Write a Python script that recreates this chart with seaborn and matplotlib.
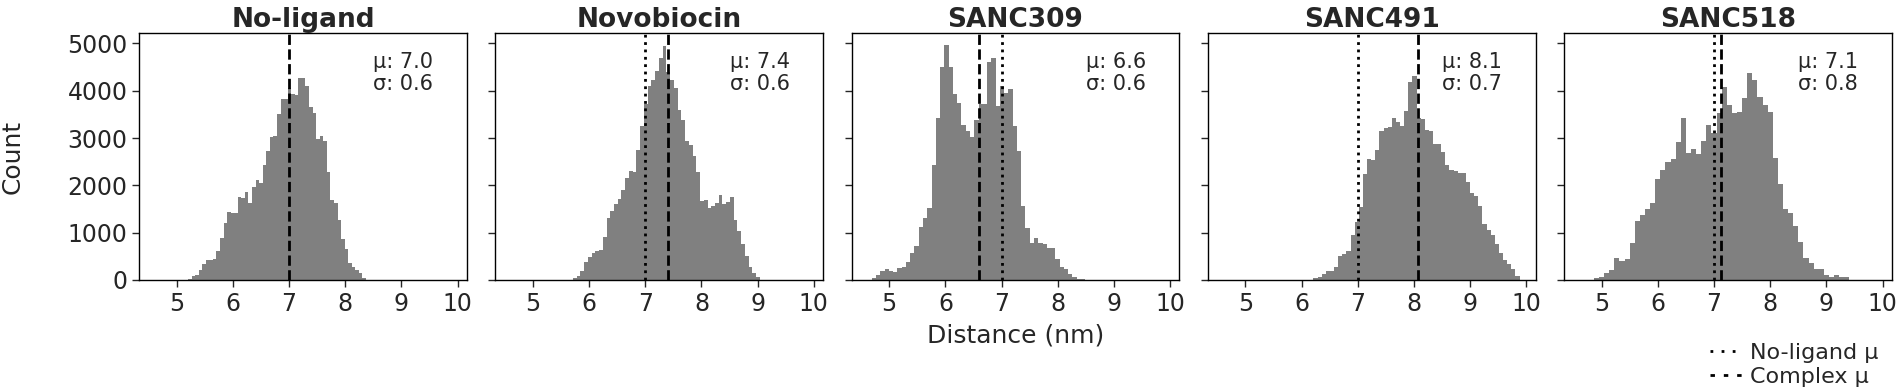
import matplotlib.pyplot as plt
import numpy as np
import pandas as pd
import seaborn as sns
from matplotlib.lines import Line2D


output_path = "out.png"

ligands = ["No-ligand", "Novobiocin", "SANC309", "SANC491", "SANC518"]
complex_means = [7.0, 7.4, 6.59, 8.08, 7.12]
complex_sds = [0.6, 0.6, 0.6, 0.7, 0.8]
no_ligand_mean = 7.0

# first / last bin edge of each histogram (50 bins each)
bin_ranges = [(5.20, 8.37), (5.71, 9.04), (4.69, 8.49), (6.21, 9.88), (4.86, 9.41)]

counts_no_ligand = [
    30, 80, 100, 210, 340, 420, 430, 440, 620, 880,
    1200, 1430, 1410, 1410, 1750, 1740, 1850, 1620, 1960, 2120,
    2060, 2430, 2720, 3030, 3040, 3500, 3830, 3830, 4060, 3930,
    3920, 4270, 4260, 4090, 3650, 3540, 2980, 3040, 2930, 2290,
    1690, 1620, 1260, 860, 650, 350, 280, 220, 140, 40,
]
counts_novobiocin = [
    35, 85, 200, 390, 490, 570, 610, 640, 900, 1300,
    1450, 1600, 1720, 1900, 2150, 2300, 2290, 2750, 3250, 3720,
    4100, 4230, 4420, 4700, 4950, 4400, 4220, 4050, 3600, 3390,
    2930, 2860, 2620, 2290, 1660, 1690, 1520, 1560, 1620, 1800,
    1600, 1640, 1760, 1270, 1040, 770, 510, 280, 140, 55,
]
counts_sanc309 = [
    35, 100, 190, 230, 200, 160, 260, 280, 370, 560,
    720, 1130, 1320, 1520, 2430, 3420, 4510, 4960, 4510, 3940,
    3750, 3270, 3140, 3030, 3380, 3720, 3730, 4600, 4690, 3680,
    4100, 3950, 4030, 3250, 2720, 1560, 1100, 780, 880, 790,
    770, 680, 670, 440, 280, 230, 130, 60, 30, 15,
]
counts_sanc491 = [
    35, 70, 125, 200, 200, 280, 500, 550, 620, 950,
    1230, 1540, 2250, 2560, 2540, 2750, 3140, 3210, 3225, 3430,
    3330, 3260, 3575, 4195, 4315, 3420, 3400, 3160, 3140, 2875,
    2870, 2695, 2420, 2320, 2305, 2270, 2255, 2065, 1835, 1775,
    1565, 1185, 1060, 950, 760, 565, 420, 340, 225, 85,
]
counts_sanc518 = [
    35, 55, 140, 210, 475, 410, 445, 775, 1255, 1375,
    1500, 1620, 2130, 2315, 2500, 2555, 2925, 3420, 2680, 2770,
    2660, 2945, 3280, 3100, 3525, 4085, 3700, 3525, 3560, 3845,
    4370, 4230, 3860, 3700, 3560, 2575, 2030, 1500, 1410, 1150,
    795, 460, 350, 225, 225, 105, 70, 100, 55, 70,
]
all_counts = [counts_no_ligand, counts_novobiocin, counts_sanc309,
              counts_sanc491, counts_sanc518]

sns.set_style("ticks")
plt.rcParams["font.family"] = ["DejaVu Sans"]

fig, axes = plt.subplots(1, 5, figsize=(19, 3.87), dpi=100, sharex=True, sharey=True)
fig.subplots_adjust(left=0.0732, right=0.9957, top=0.9147, bottom=0.2765, wspace=0.087)

for i, ax in enumerate(axes):
    lo, hi = bin_ranges[i]
    edges = np.linspace(lo, hi, len(all_counts[i]) + 1)
    hist_df = pd.DataFrame({
        "distance": (edges[:-1] + edges[1:]) / 2,
        "count": all_counts[i],
    })
    sns.histplot(
        data=hist_df,
        x="distance",
        weights="count",
        bins=edges.tolist(),
        element="step",
        color="gray",
        alpha=1,
        linewidth=0,
        ax=ax,
    )

    if i > 0:
        ax.axvline(no_ligand_mean, color="black", linestyle=":", linewidth=2)
    ax.axvline(complex_means[i], color="black", linestyle="--", linewidth=2)

    ax.text(0.715, 0.925, f"μ: {complex_means[i]:.1f}\nσ: {complex_sds[i]:.1f}",
            transform=ax.transAxes, ha="left", va="top", fontsize=15, linespacing=1.15)

    ax.set_title(ligands[i], fontsize=19, fontweight="bold", pad=4)
    ax.set_xlabel("")
    ax.set_ylabel("")
    ax.tick_params(labelsize=17, length=4.8, width=1)
    for spine in ax.spines.values():
        spine.set_color("black")
        spine.set_linewidth(1)

axes[0].set_xlim(4.33, 10.165)
axes[0].set_ylim(0, 5220)
axes[0].set_xticks([5, 6, 7, 8, 9, 10])
axes[0].set_yticks([0, 1000, 2000, 3000, 4000, 5000])
axes[0].set_ylabel("Count", fontsize=18, labelpad=31)
axes[2].set_xlabel("Distance (nm)", fontsize=18, labelpad=6)

legend_handles = [
    Line2D([0], [0], color="black", linewidth=2, linestyle=(0, (1, 3))),
    Line2D([0], [0], color="black", linewidth=2, linestyle=(0, (1.6, 3.2))),
]
fig.legend(
    legend_handles, ["No-ligand μ", "Complex μ"],
    loc="lower right",
    bbox_to_anchor=(0.999, -0.052),
    frameon=False,
    fontsize=16,
    handlelength=1.5,
    handletextpad=0.3,
    labelspacing=0.2,
)

plt.savefig(output_path, dpi=100)
print("saved:", output_path)
